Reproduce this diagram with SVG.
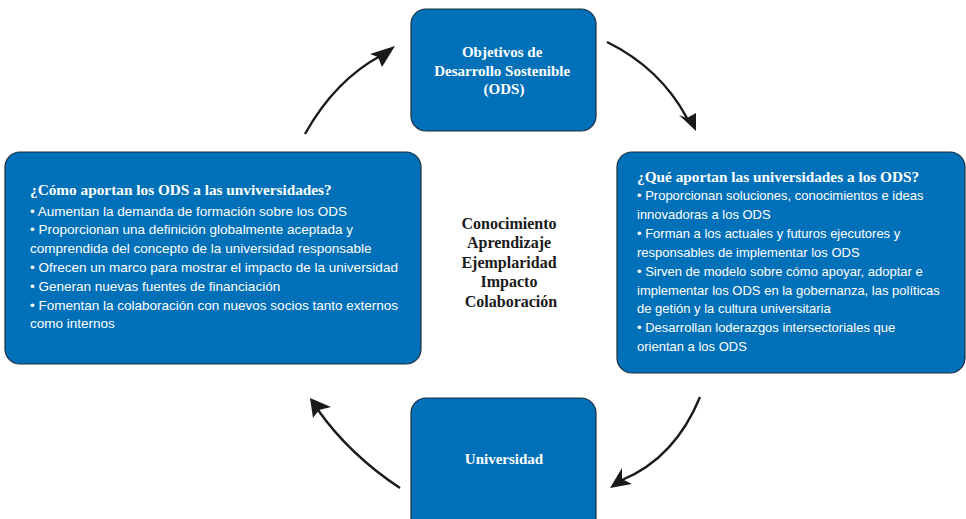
<svg xmlns="http://www.w3.org/2000/svg" width="966" height="519" viewBox="0 0 966 519">
  <defs>
    <style>
      .box { fill: #0070b8; stroke: #1d2d3d; stroke-width: 1.2; }
      .head { font-family: "Liberation Serif", "DejaVu Serif", serif; font-weight: bold; fill: #ffffff; }
      .body { font-family: "Liberation Sans", Arial, sans-serif; font-size: 13px; fill: #ffffff; }
      .mid { font-family: "Liberation Serif", "DejaVu Serif", serif; font-weight: bold; font-size: 16px; fill: #1a1a1a; text-anchor: middle; }
      .arc { fill: none; stroke: #1a1a1a; stroke-width: 2.4; }
    </style>
  </defs>
  <rect width="966" height="519" fill="#ffffff"/>

  <!-- cycle arrows -->
  <g id="connectors">
    <path class="arc" d="M305,134 Q335,80 382,55"/>
    <path class="arc" d="M607,42 Q660,68 687,118"/>
    <path class="arc" d="M700,397 Q675,458 622,480"/>
    <path class="arc" d="M400,488 Q350,455 318,410"/>
    <!-- arrowheads -->
    <path d="M395,46 L370,54 L378,57 L382,67 Z" fill="#1a1a1a"/>
    <path d="M696,131 L679,115 L687,118 L696,113 Z" fill="#1a1a1a"/>
    <path d="M610,488 L622,468 L622,479 L632,484 Z" fill="#1a1a1a"/>
    <path d="M310,398 L331,407 L319,410 L313,418 Z" fill="#1a1a1a"/>
  </g>

  <g id="ods">
    <rect class="box" x="411" y="9" width="185" height="122" rx="15"/>
    <text class="head" font-size="15" text-anchor="middle">
      <tspan x="504" y="57">Objetivos de</tspan>
      <tspan x="504" y="76">Desarrollo Sostenible</tspan>
      <tspan x="504" y="94">(ODS)</tspan>
    </text>
  </g>

  <g id="ods-to-univ">
    <rect class="box" x="5" y="152" width="416" height="212" rx="15"/>
    <text class="head" font-size="15.3" x="30" y="195">¿Cómo aportan los ODS a las unviversidades?</text>
    <text class="body" style="font-size:13.5px">
      <tspan x="30" y="216">• Aumentan la demanda de formación sobre los ODS</tspan>
      <tspan x="30" y="234">• Proporcionan una definición globalmente aceptada y</tspan>
      <tspan x="30" y="253">comprendida del concepto de la universidad responsable</tspan>
      <tspan x="30" y="272">• Ofrecen un marco para mostrar el impacto de la universidad</tspan>
      <tspan x="30" y="291">• Generan nuevas fuentes de financiación</tspan>
      <tspan x="30" y="310">• Fomentan la colaboración con nuevos socios tanto externos</tspan>
      <tspan x="30" y="328">como internos</tspan>
    </text>
  </g>

  <g id="univ-to-ods">
    <rect class="box" x="617" y="152" width="348" height="221" rx="15"/>
    <text class="head" font-size="15.3" x="637" y="182">¿Qué aportan las universidades a los ODS?</text>
    <text class="body">
      <tspan x="637" y="200">• Proporcionan soluciones, conocimientos e ideas</tspan>
      <tspan x="637" y="219">innovadoras a los ODS</tspan>
      <tspan x="637" y="238">• Forman a los actuales y futuros ejecutores y</tspan>
      <tspan x="637" y="257">responsables de implementar los ODS</tspan>
      <tspan x="637" y="276">• Sirven de modelo sobre cómo apoyar, adoptar e</tspan>
      <tspan x="637" y="295">implementar los ODS en la gobernanza, las políticas</tspan>
      <tspan x="637" y="313">de getión y la cultura universitaria</tspan>
      <tspan x="637" y="332">• Desarrollan loderazgos intersectoriales que</tspan>
      <tspan x="637" y="351">orientan a los ODS</tspan>
    </text>
  </g>

  <g id="universidad">
    <rect class="box" x="411" y="398" width="185" height="135" rx="15"/>
    <text class="head" font-size="15" text-anchor="middle" x="504" y="464">Universidad</text>
  </g>

  <g id="centro">
    <text class="mid">
      <tspan x="511" y="229">Conocimiento</tspan>
      <tspan x="511" y="248">Aprendizaje</tspan>
      <tspan x="511" y="268">Ejemplaridad</tspan>
      <tspan x="511" y="287">Impacto</tspan>
      <tspan x="511" y="307">Colaboración</tspan>
    </text>
  </g>
</svg>
